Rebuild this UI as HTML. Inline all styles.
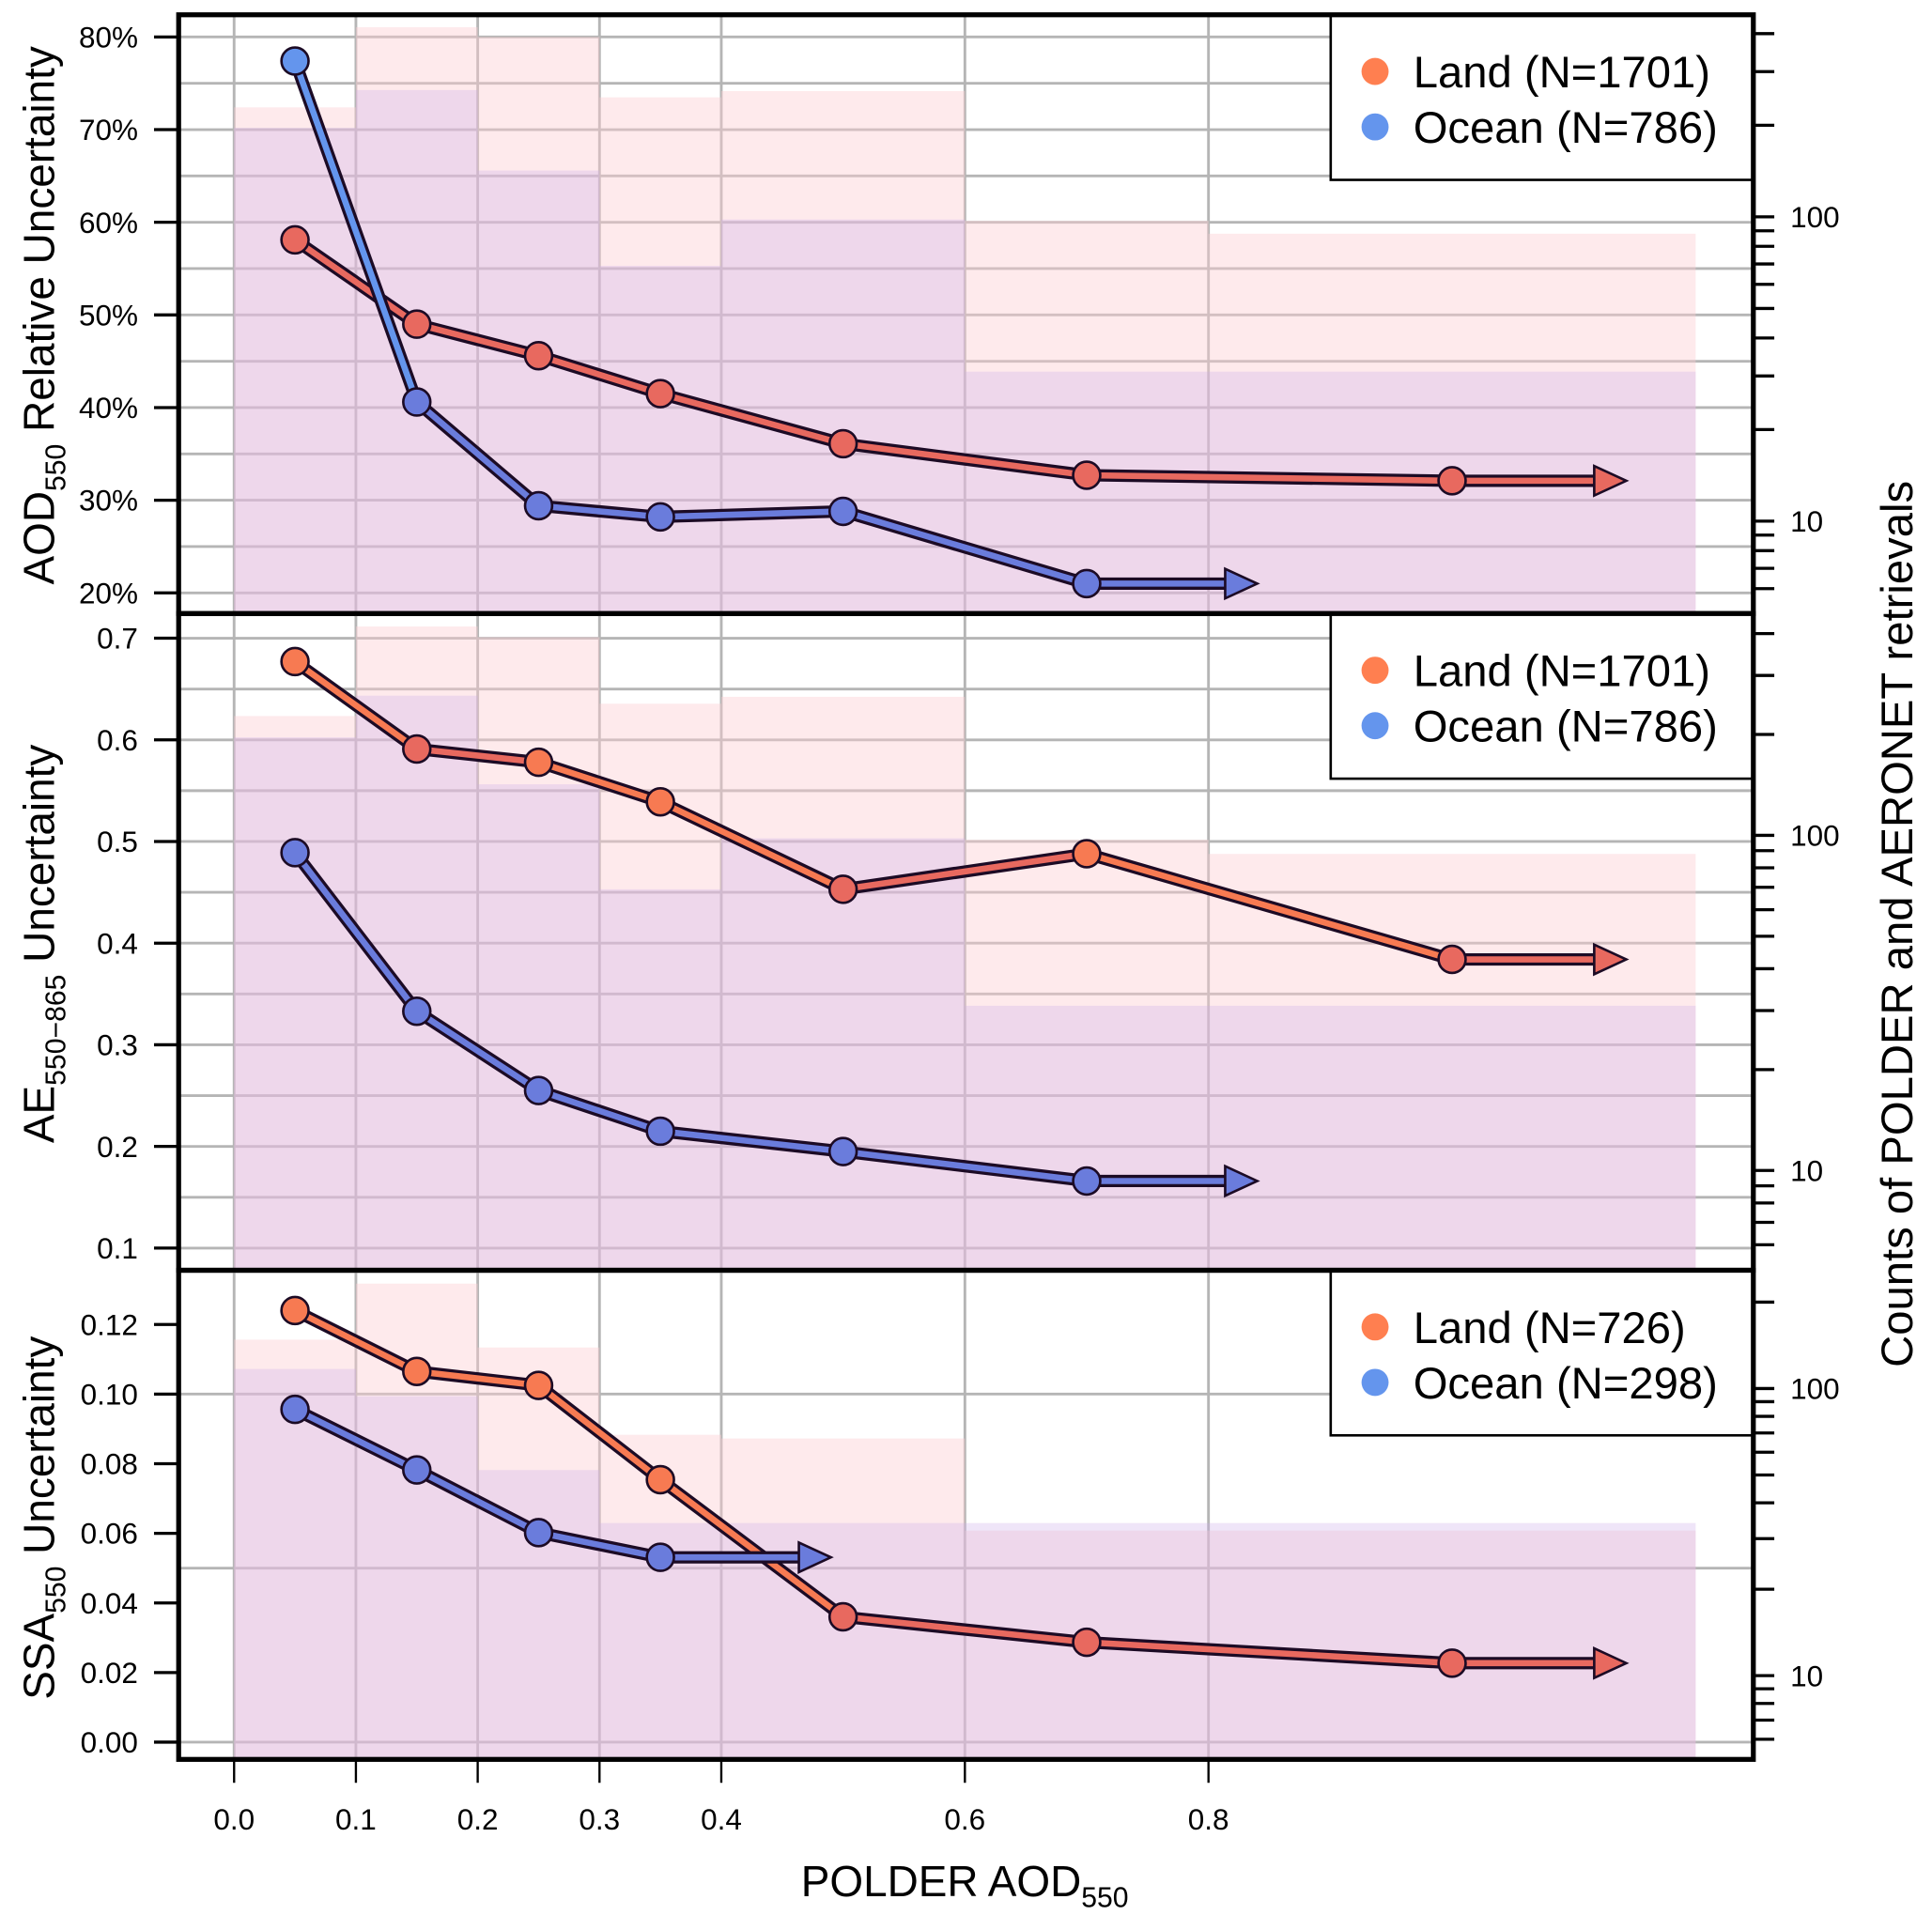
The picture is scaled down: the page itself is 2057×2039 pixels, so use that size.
<!DOCTYPE html>
<html><head><meta charset="utf-8"><style>
html,body{margin:0;padding:0;background:#fff;}
svg{display:block;}
text{font-family:"Liberation Sans",Arial,sans-serif;fill:#000;}
</style></head><body>
<svg id="chart" xmlns="http://www.w3.org/2000/svg" width="2057" height="2039" viewBox="0 0 1568 1554.3" preserveAspectRatio="none"></svg>
<script>
// ---- data ----
const binEdges = [0,0.1,0.2,0.3,0.4,0.6,0.8,1.2];
const xPoints = [0.05,0.15,0.25,0.35,0.5,0.7,1.0];
const xTicks = [0,0.1,0.2,0.3,0.4,0.6,0.8];
const xTickLabels = ["0.0","0.1","0.2","0.3","0.4","0.6","0.8"];
// panel 1: AOD relative uncertainty (%)
const p1Land = [58.1,49.0,45.6,41.5,36.1,32.7,32.1];
const p1Ocean = [77.4,40.6,29.4,28.2,28.8,21.0];
const p1LandCounts = [229,420,390,247,259,97,88];
const p1OceanCounts = [196,261,142,69,98,31,31];
// panel 2: AE uncertainty
const p2Land = [0.677,0.591,0.578,0.539,0.453,0.488,0.384];
const p2Ocean = [0.489,0.333,0.255,0.215,0.195,0.166];
const p2LandCounts = [227,420,390,247,259,97,88];
const p2OceanCounts = [196,261,142,69,98,31,31];
// panel 3: SSA uncertainty
const p3Land = [0.124,0.1065,0.1025,0.0754,0.036,0.0287,0.0227];
const p3Ocean = [0.0956,0.0782,0.0602,0.0531];
const p3LandCounts = [148,232,139,69,67,32,32];
const p3OceanCounts = [117,94,52,34,34,34,34];
const legendLand = ["Land (N=1701)","Land (N=1701)","Land (N=726)"];
const legendOcean = ["Ocean (N=786)","Ocean (N=786)","Ocean (N=298)"];

const NS="http://www.w3.org/2000/svg";
const svg=document.getElementById('chart');
function el(tag,attrs,parent){const e=document.createElementNS(NS,tag);for(const k in attrs)e.setAttribute(k,attrs[k]);(parent||svg).appendChild(e);return e;}
const X0=190, XS=988.5, FL=145, FR=1423;
const xs=v=>X0+XS*v;
const RED="#e8695f", CORAL="#f77a52", OCEAN="#6a7cdc", OCEAN1="#6495ed";

const panels=[
 {top:12,bot:498,y:v=>30+(80-v)*7.52,gmin:20,gmax:80,gstep:5,ticks:[20,30,40,50,60,70,80],fmt:v=>v+"%",
  r100:176,rdec:247,land:p1Land,ocean:p1Ocean,lc:p1LandCounts,oc:p1OceanCounts,
  landCol:[RED,RED,RED,RED,RED,RED,RED],oceanCol:[OCEAN1,OCEAN,OCEAN,OCEAN,OCEAN,OCEAN],landArrow:1.143,oceanArrow:0.84,rticks:[6,7,8,9,10,20,30,40,50,60,70,80,90,100,200,300,400]},
 {top:498,bot:1031,y:v=>518+(0.7-v)*825,gmin:0.1,gmax:0.7,gstep:0.05,ticks:[0.1,0.2,0.3,0.4,0.5,0.6,0.7],fmt:v=>v.toFixed(1),
  r100:678,rdec:272,land:p2Land,ocean:p2Ocean,lc:p2LandCounts,oc:p2OceanCounts,
  landCol:[CORAL,RED,CORAL,CORAL,RED,CORAL,RED],oceanCol:[OCEAN,OCEAN,OCEAN,OCEAN,OCEAN,OCEAN],landArrow:1.143,oceanArrow:0.84,rticks:[6,7,8,9,10,20,30,40,50,60,70,80,90,100,200,300,400]},
 {top:1031,bot:1428,y:v=>1414-v*2825,gmin:0,gmax:0.1,gstep:0.05,ticks:[0,0.02,0.04,0.06,0.08,0.1,0.12],fmt:v=>v.toFixed(2),
  r100:1127,rdec:233,land:p3Land,ocean:p3Ocean,lc:p3LandCounts,oc:p3OceanCounts,
  landCol:[CORAL,CORAL,CORAL,CORAL,RED,RED,RED],oceanCol:[OCEAN,OCEAN,OCEAN,OCEAN],landArrow:1.143,oceanArrow:0.49,rticks:[6,7,8,9,10,20,30,40,50,60,70,80,90,100,200,300]}
];

panels.forEach((p,pi)=>{
  const g=el('g',{});
  
  
  const clip=el('clipPath',{id:'c'+pi},g);
  el('rect',{x:FL,y:p.top,width:FR-FL,height:p.bot-p.top},clip);
  const inner=el('g',{'clip-path':'url(#c'+pi+')'},g);
  for(let v=p.gmin;v<=p.gmax+1e-9;v+=p.gstep){const y=p.y(v);el('line',{x1:FL,x2:FR,y1:y,y2:y,stroke:'#b5b5b5','stroke-width':2.2},inner);}
  xTicks.forEach(v=>el('line',{x1:xs(v),x2:xs(v),y1:p.top,y2:p.bot,stroke:'#b5b5b5','stroke-width':2.2},inner));
  const ry=c=>p.r100-p.rdec*Math.log10(c/100);
  p.lc.forEach((c,i)=>{const r=el('rect',{x:xs(binEdges[i]),y:ry(c),width:xs(binEdges[i+1])-xs(binEdges[i]),height:p.bot-ry(c),fill:'rgba(252,205,210,0.42)'},inner);
    
    });
  p.oc.forEach((c,i)=>{const r=el('rect',{x:xs(binEdges[i]),y:ry(c),width:xs(binEdges[i+1])-xs(binEdges[i]),height:p.bot-ry(c),fill:'rgba(205,175,232,0.32)'},inner);
    
    });
  function series(vals,cols,arrowX,name){
    const sg=el('g',{},g);
    
    
    const pts=vals.map((v,i)=>[xs(xPoints[i]),p.y(v)]);
    const last=pts[pts.length-1], tip=xs(arrowX), base=tip-26;
    const d='M'+pts.map(q=>q.join(',')).join(' L')+' L'+base+','+last[1];
    el('path',{d:d,fill:'none',stroke:'#1c0b25','stroke-width':10,'stroke-linejoin':'round'},sg);
    for(let i=0;i<pts.length-1;i++)el('line',{x1:pts[i][0],y1:pts[i][1],x2:pts[i+1][0],y2:pts[i+1][1],stroke:cols[i],'stroke-width':5},sg);
    el('line',{x1:last[0],y1:last[1],x2:base,y2:last[1],stroke:cols[cols.length-1],'stroke-width':5},sg);
    el('polygon',{points:`${base},${last[1]-12} ${tip},${last[1]} ${base},${last[1]+12}`,fill:cols[cols.length-1],stroke:'#1c0b25','stroke-width':2},sg);
    pts.forEach((q,i)=>{const c=el('circle',{cx:q[0],cy:q[1],r:11,fill:cols[i],stroke:'#1c0b25','stroke-width':2},sg);
      
      });
  }
  series(p.land,p.landCol,p.landArrow,'land-series');
  series(p.ocean,p.oceanCol,p.oceanArrow,'ocean-series');
  const lg=el('g',{},g);
  
  
  el('rect',{x:1080,y:p.top,width:FR-1080,height:134,fill:'#fff',stroke:'#000','stroke-width':2},lg);
  el('circle',{cx:1116,cy:p.top+46,r:11,fill:'#ff7f50'},lg);
  el('circle',{cx:1116,cy:p.top+91,r:11,fill:'#6495ed'},lg);
  const t1=el('text',{x:1147,y:p.top+59,'font-size':36},lg);t1.textContent=legendLand[pi];
  const t2=el('text',{x:1147,y:p.top+104,'font-size':36},lg);t2.textContent=legendOcean[pi];
  p.ticks.forEach(v=>{const y=p.y(v);el('line',{x1:125,x2:FL,y1:y,y2:y,stroke:'#000','stroke-width':2.5},g);
    const t=el('text',{x:112,y:y+8.5,'font-size':24,'text-anchor':'end'},g);t.textContent=p.fmt(v);});
  p.rticks.forEach(c=>{const y=ry(c);if(y<p.top+2||y>p.bot-2)return;el('line',{x1:FR,x2:FR+17,y1:y,y2:y,stroke:'#000','stroke-width':2.5},g);
    if(c===10||c===100){const t=el('text',{x:1453,y:y+8.5,'font-size':24},g);t.textContent=String(c);}});
  el('rect',{x:FL,y:p.top,width:FR-FL,height:p.bot-p.top,fill:'none',stroke:'#000','stroke-width':4},g);
});
xTicks.forEach((v,i)=>{el('line',{x1:xs(v),x2:xs(v),y1:1428,y2:1447,stroke:'#000','stroke-width':1.8});
  const t=el('text',{x:xs(v),y:1485,'font-size':24,'text-anchor':'middle'});t.textContent=xTickLabels[i];});
</script>
<div style="position:absolute;left:0;top:0;width:2057px;height:2039px;pointer-events:none">
<svg width="2057" height="2039" viewBox="0 0 1568 1554.3" preserveAspectRatio="none" style="position:absolute;left:0;top:0">
<text x="783" y="1539" font-size="35" text-anchor="middle">POLDER AOD<tspan font-size="23" dy="9">550</tspan></text>
<text transform="translate(44,256) rotate(-90)" text-anchor="middle" font-size="35">AOD<tspan font-size="23" dy="9">550</tspan><tspan dy="-9"> Relative Uncertainty</tspan></text>
<text transform="translate(44,766) rotate(-90)" text-anchor="middle" font-size="35">AE<tspan font-size="23" dy="9">550−865</tspan><tspan dy="-9"> Uncertainty</tspan></text>
<text transform="translate(44,1232) rotate(-90)" text-anchor="middle" font-size="35">SSA<tspan font-size="23" dy="9">550</tspan><tspan dy="-9"> Uncertainty</tspan></text>
<text transform="translate(1552,750) rotate(-90)" text-anchor="middle" font-size="36">Counts of POLDER and AERONET retrievals</text>
</svg></div>
</body></html>
